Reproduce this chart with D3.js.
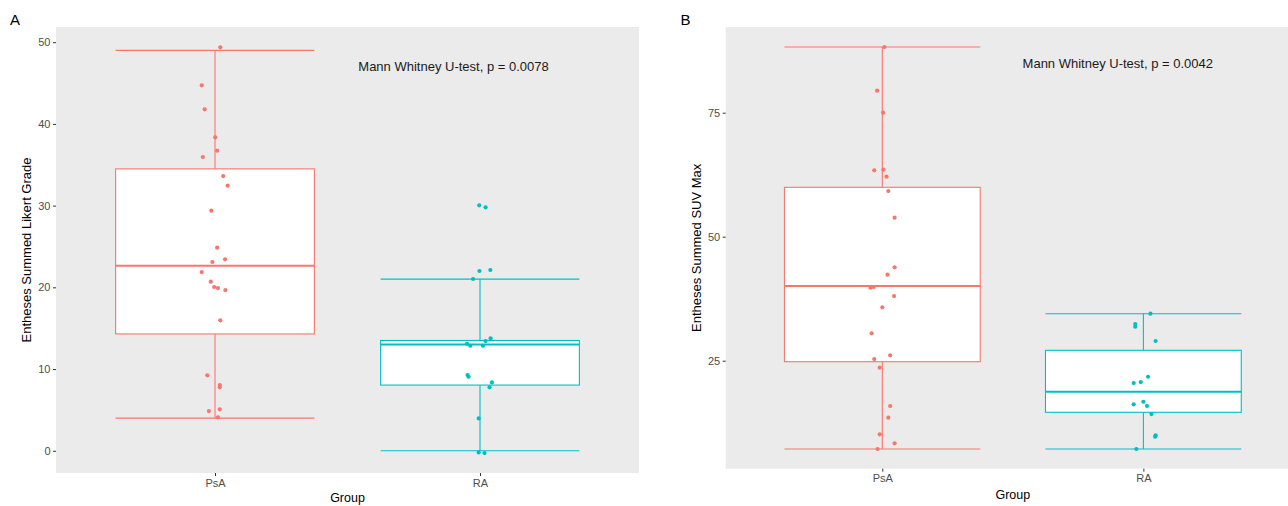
<!DOCTYPE html>
<html>
<head>
<meta charset="utf-8">
<script src="https://cdnjs.cloudflare.com/ajax/libs/d3/7.8.5/d3.min.js"></script>
<style>
  html, body { margin: 0; padding: 0; background: #fff; }
  svg { display: block; font-family: "Liberation Sans", Arial, sans-serif; }
</style>
</head>
<body>
<svg id="chart" width="1288" height="506"></svg>
<script>
// ---------------- data ----------------
const categories = ["PsA", "RA"];

// Panel A: Entheses Summed Likert Grade
const likertPsA = [49.37, 44.72, 41.79, 38.36, 36.72, 35.95, 33.62, 32.44, 29.38, 24.85, 23.43, 23.10,
  21.87, 20.69, 20.04, 19.91, 19.67, 15.96, 9.23, 8.04, 7.76, 4.86, 5.07, 4.09];
const likertPsAJitter = [0.020, -0.050, -0.039, 0.001, 0.008, -0.046, 0.031, 0.048, -0.014, 0.008, 0.038, -0.010,
  -0.050, -0.016, -0.003, 0.011, 0.039, 0.020, -0.029, 0.018, 0.018, -0.023, 0.018, 0.011];
const likertRA = [30.04, 29.79, 22.00, 22.12, 21.02, 13.76, 13.43, 13.10, 12.85, 12.85, 9.27, 9.06, 8.37, 7.76, 3.96, -0.20, -0.28];
const likertRAJitter = [-0.003, 0.021, -0.002, 0.039, -0.026, 0.040, 0.021, -0.049, -0.037, 0.011, -0.047, -0.043, 0.045, 0.036, -0.005, -0.005, 0.017];
// box stats: [lower whisker, Q1, median, Q3, upper whisker]
const likertPsABox = [4.0, 14.3, 22.65, 34.5, 49.0];
const likertRABox = [0.0, 8.04, 13.0, 13.5, 21.0];
const likertTicks = [0, 10, 20, 30, 40, 50];
const likertLabel = "Mann Whitney U-test, p = 0.0078";

// Panel B: Entheses Summed SUV Max
const suvPsA = [88.25, 79.44, 75.0, 63.39, 63.51, 62.1, 59.21, 53.83, 43.83, 42.34, 39.72, 39.86,
  38.04, 35.77, 30.53, 25.34, 26.09, 23.59, 15.87, 13.51, 10.16, 8.35, 7.2];
const suvPsAJitter = [0.008, -0.020, 0.003, -0.031, 0.004, 0.016, 0.023, 0.047, 0.047, 0.020, -0.045, -0.033,
  0.045, 0.000, -0.041, -0.031, 0.030, -0.010, 0.030, 0.023, -0.010, 0.047, -0.018];
const suvRA = [34.48, 32.4, 31.86, 28.98, 21.77, 20.7, 20.5, 16.2, 16.73, 15.87, 14.25, 9.96, 9.68, 7.2];
const suvRAJitter = [0.027, -0.031, -0.031, 0.047, 0.018, -0.010, -0.037, -0.037, 0.000, 0.014, 0.031, 0.047, 0.045, -0.027];
const suvPsABox = [7.2, 24.8, 40.06, 59.96, 88.25];
const suvRABox = [7.2, 14.6, 18.75, 27.1, 34.48];
const suvTicks = [25, 50, 75];
const suvLabel = "Mann Whitney U-test, p = 0.0042";

const colors = ["#F8766D", "#00BFC4"];

// ---------------- drawing ----------------
const svg = d3.select("#chart");

function panel(opt) {
  const g = svg.append("g");
  const x = d3.scaleLinear().domain([0.4, 2.6]).range([opt.left, opt.right]);
  const y = d3.scaleLinear().domain(opt.yDomain).range([opt.bottom, opt.top]);
  const unit = x(2) - x(1);
  const boxW = 0.75 * unit;

  g.append("rect")
    .attr("x", opt.left).attr("y", opt.top)
    .attr("width", opt.right - opt.left).attr("height", opt.bottom - opt.top)
    .attr("fill", "#EBEBEB");

  const groups = opt.groups;
  groups.forEach((grp, i) => {
    const cx = x(i + 1);
    const b = grp.box;
    const col = colors[i];
    // whisker vertical lines
    g.append("line").attr("x1", cx).attr("x2", cx).attr("y1", y(b[3])).attr("y2", y(b[4]))
      .attr("stroke", col).attr("stroke-width", 1.1);
    g.append("line").attr("x1", cx).attr("x2", cx).attr("y1", y(b[1])).attr("y2", y(b[0]))
      .attr("stroke", col).attr("stroke-width", 1.1);
    // whisker caps (full width)
    [b[0], b[4]].forEach(v => {
      g.append("line").attr("x1", cx - boxW / 2).attr("x2", cx + boxW / 2)
        .attr("y1", y(v)).attr("y2", y(v))
        .attr("stroke", col).attr("stroke-width", 1.1);
    });
    // box
    g.append("rect")
      .attr("x", cx - boxW / 2).attr("y", y(b[3]))
      .attr("width", boxW).attr("height", y(b[1]) - y(b[3]))
      .attr("fill", "#ffffff").attr("stroke", col).attr("stroke-width", 1.1);
    // median
    g.append("line").attr("x1", cx - boxW / 2).attr("x2", cx + boxW / 2)
      .attr("y1", y(b[2])).attr("y2", y(b[2]))
      .attr("stroke", col).attr("stroke-width", 2);
  });

  groups.forEach((grp, i) => {
    g.append("g").selectAll("circle")
      .data(grp.values.map((v, k) => ({ v, j: grp.jitter[k] })))
      .join("circle")
      .attr("cx", d => x(i + 1 + d.j))
      .attr("cy", d => y(d.v))
      .attr("r", 2.1)
      .attr("fill", colors[i]);
  });

  // axes
  const yAxis = d3.axisLeft(y).tickValues(opt.ticks).tickSize(3).tickPadding(2.5);
  const ya = g.append("g").attr("transform", `translate(${opt.left},0)`).call(yAxis);
  ya.select(".domain").remove();
  ya.selectAll(".tick line").attr("stroke", "#333333");
  ya.selectAll(".tick text").attr("fill", "#4D4D4D").style("font-size", "11px");

  const xAxis = d3.axisBottom(x).tickValues([1, 2]).tickFormat(d => categories[d - 1]).tickSize(3).tickPadding(3);
  const xa = g.append("g").attr("transform", `translate(0,${opt.bottom})`).call(xAxis);
  xa.select(".domain").remove();
  xa.selectAll(".tick line").attr("stroke", "#333333");
  xa.selectAll(".tick text").attr("fill", "#4D4D4D").style("font-size", "11px");

  // titles
  g.append("text")
    .attr("x", (opt.left + opt.right) / 2).attr("y", opt.groupY)
    .attr("text-anchor", "middle").attr("dominant-baseline", "middle")
    .style("font-size", "12.5px").attr("fill", "#000")
    .text("Group");
  g.append("text")
    .attr("transform", `translate(${opt.yTitleX},${(opt.top + opt.bottom) / 2}) rotate(-90)`)
    .attr("text-anchor", "middle").attr("dominant-baseline", "middle")
    .style("font-size", "13px").attr("fill", "#000")
    .text(opt.yTitle);
  g.append("text")
    .attr("x", x(opt.annot[0])).attr("y", y(opt.annot[1]))
    .attr("text-anchor", "middle").attr("dominant-baseline", "middle")
    .style("font-size", "13px").attr("fill", "#1a1a1a")
    .text(opt.annotText);
  g.append("text")
    .attr("x", opt.tagX).attr("y", 21)
    .attr("dominant-baseline", "middle")
    .style("font-size", "15px").attr("fill", "#000")
    .text(opt.tag);
}

panel({
  left: 56, right: 639, top: 27, bottom: 473,
  yDomain: [-2.72, 51.86], ticks: likertTicks,
  groups: [
    { values: likertPsA, jitter: likertPsAJitter, box: likertPsABox },
    { values: likertRA, jitter: likertRAJitter, box: likertRABox }
  ],
  yTitle: "Entheses Summed Likert Grade", yTitleX: 28,
  groupY: 499, annot: [1.9, 46.9], annotText: likertLabel,
  tag: "A", tagX: 10
});

panel({
  left: 725.7, right: 1300, top: 27, bottom: 468.7,
  yDomain: [3.23, 92.28], ticks: suvTicks,
  groups: [
    { values: suvPsA, jitter: suvPsAJitter, box: suvPsABox },
    { values: suvRA, jitter: suvRAJitter, box: suvRABox }
  ],
  yTitle: "Entheses Summed SUV Max", yTitleX: 698,
  groupY: 495.5, annot: [1.902, 84.76], annotText: suvLabel,
  tag: "B", tagX: 680.5
});
</script>
</body>
</html>
